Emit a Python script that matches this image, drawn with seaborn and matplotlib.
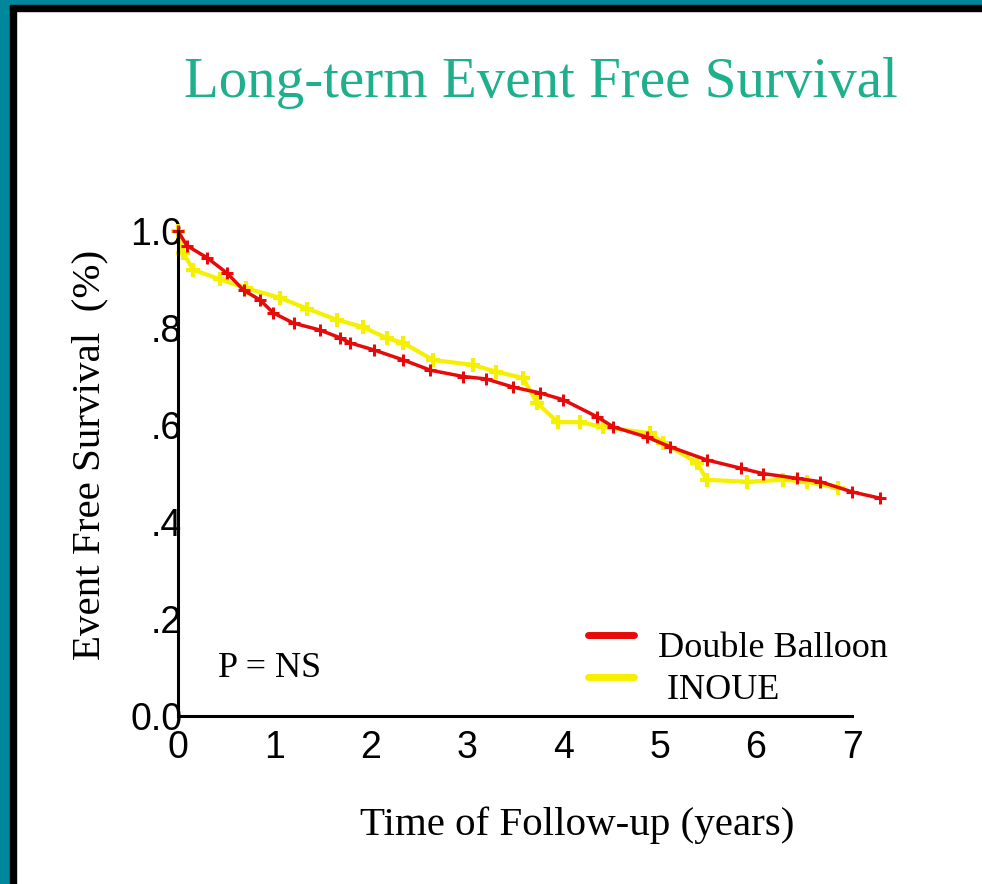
import matplotlib
matplotlib.use('Agg')
import numpy as np
import pandas as pd
import matplotlib.pyplot as plt
import seaborn as sns
from matplotlib.patches import Rectangle
from matplotlib.lines import Line2D
from matplotlib.legend_handler import HandlerLine2D

# Kaplan-Meier style curves
red_time = [0, 0.09, 0.3, 0.51, 0.68, 0.85, 0.99, 1.2, 1.47, 1.68, 1.79, 2.03, 2.34, 2.62,
            2.96, 3.2, 3.48, 3.76, 4.0, 4.35, 4.52, 4.87, 5.11, 5.49, 5.84, 6.07, 6.43, 6.67,
            7.0, 7.29]
red_surv = [1.0, 0.97, 0.945, 0.913, 0.878, 0.858, 0.831, 0.81, 0.796, 0.78, 0.769, 0.755,
            0.734, 0.713, 0.70, 0.695, 0.678, 0.666, 0.652, 0.617, 0.596, 0.575, 0.555, 0.528,
            0.511, 0.50, 0.49, 0.483, 0.462, 0.449]

yellow_time = [0, 0.05, 0.16, 0.44, 0.71, 1.06, 1.34, 1.65, 1.92, 2.17, 2.34, 2.65, 3.06, 3.3,
               3.58, 3.73, 3.94, 4.17, 4.41, 4.9, 5.04, 5.39, 5.49, 5.91, 6.28, 6.53, 6.85]
yellow_surv = [1.0, 0.955, 0.92, 0.9, 0.882, 0.862, 0.84, 0.817, 0.802, 0.779, 0.769, 0.734,
               0.724, 0.71, 0.697, 0.645, 0.606, 0.606, 0.596, 0.583, 0.563, 0.522, 0.487,
               0.483, 0.487, 0.483, 0.47]

groups = ['Double Balloon', 'INOUE']
colors = {'Double Balloon': '#E60A0A', 'INOUE': '#F5F000'}

x_ticks = [0, 1, 2, 3, 4, 5, 6, 7]
y_ticks = [0.0, 0.2, 0.4, 0.6, 0.8, 1.0]
y_tick_labels = ['0.0', '.2', '.4', '.6', '.8', '1.0']

df_red = pd.DataFrame({'time': red_time, 'surv': red_surv, 'group': groups[0]})
df_yel = pd.DataFrame({'time': yellow_time, 'surv': yellow_surv, 'group': groups[1]})

sns.set_style('white')
plt.rcParams['font.family'] = ['Liberation Serif', 'DejaVu Serif']
plt.rcParams['text.color'] = 'black'
plt.rcParams['xtick.color'] = 'black'
plt.rcParams['ytick.color'] = 'black'


class RaisedLine(HandlerLine2D):
    # legend swatch sits a bit above the text line, as on the slide
    def create_artists(self, legend, orig_handle, xdescent, ydescent, width, height,
                       fontsize, trans):
        arts = super().create_artists(legend, orig_handle, xdescent, ydescent, width,
                                      height, fontsize, trans)
        for a in arts:
            a.set_ydata(np.asarray(a.get_ydata()) + 0.35 * height)
        return arts


fig = plt.figure(figsize=(9.82, 8.84), dpi=100)
fig.patch.set_facecolor('white')
ax = fig.add_axes([0.1813, 0.190, 0.7160, 0.5487])

# yellow first, red on top
sns.lineplot(data=df_yel, x='time', y='surv', color=colors['INOUE'], lw=3,
             marker='+', markersize=10, markeredgewidth=3, markeredgecolor=colors['INOUE'],
             ax=ax, clip_on=False, estimator=None, sort=True)
sns.lineplot(data=df_red, x='time', y='surv', color=colors['Double Balloon'], lw=2.5,
             marker='+', markersize=9, markeredgewidth=2.2,
             markeredgecolor=colors['Double Balloon'],
             ax=ax, clip_on=False, estimator=None, sort=True)

ax.set_xlim(0, 7.3)
ax.set_ylim(0, 1.0)
ax.spines['bottom'].set_bounds(0, 7)
for s in ['top', 'right']:
    ax.spines[s].set_visible(False)
for s in ['left', 'bottom']:
    ax.spines[s].set_color('black')
    ax.spines[s].set_linewidth(2.2)

ax.set_xticks(x_ticks)
ax.set_xticklabels([str(t) for t in x_ticks], family='Liberation Sans', fontsize=27)
ax.set_yticks(y_ticks)
ax.set_yticklabels(y_tick_labels, family='Liberation Sans', fontsize=27)
ax.tick_params(axis='both', length=0)
ax.tick_params(axis='y', pad=-3)
ax.tick_params(axis='x', pad=10)
ax.set_xlabel('')
ax.set_ylabel('')

fig.text(0.551, 0.906, 'Long-term Event Free Survival', color='#1EAF8C',
         fontsize=41, ha='center', va='center')
fig.text(0.092, 0.485, 'Event Free Survival  (%)', rotation=90, fontsize=29.5,
         ha='center', va='center')
fig.text(0.5875, 0.066, 'Time of Follow-up (years)', fontsize=29.5, ha='center',
         va='center')
ax.text(0.41, 0.097, 'P = NS', fontsize=26, ha='left', va='center')

handles = [Line2D([], [], color=colors[g], lw=5) for g in groups]
ax.legend(handles, ['Double Balloon', ' INOUE'], loc='upper left',
          bbox_to_anchor=(0.537, 0.241), frameon=False, fontsize=26,
          handlelength=1.27, handletextpad=0.67, labelspacing=0.23,
          handler_map={Line2D: RaisedLine()})

# slide frame: teal outer strip and black inner strip on top and left
fig.add_artist(Rectangle((0, 0), 10 / 982, 1, transform=fig.transFigure,
                         color='#00879C', zorder=10))
fig.add_artist(Rectangle((10 / 982, 0), 6 / 982, 1 - 5 / 884, transform=fig.transFigure,
                         color='black', zorder=10))
fig.add_artist(Rectangle((0, 1 - 5 / 884), 1, 5 / 884, transform=fig.transFigure,
                         color='#00879C', zorder=10))
fig.add_artist(Rectangle((10 / 982, 1 - 11 / 884), 1, 6 / 884, transform=fig.transFigure,
                         color='black', zorder=10))

fig.savefig('out.png', dpi=100)
